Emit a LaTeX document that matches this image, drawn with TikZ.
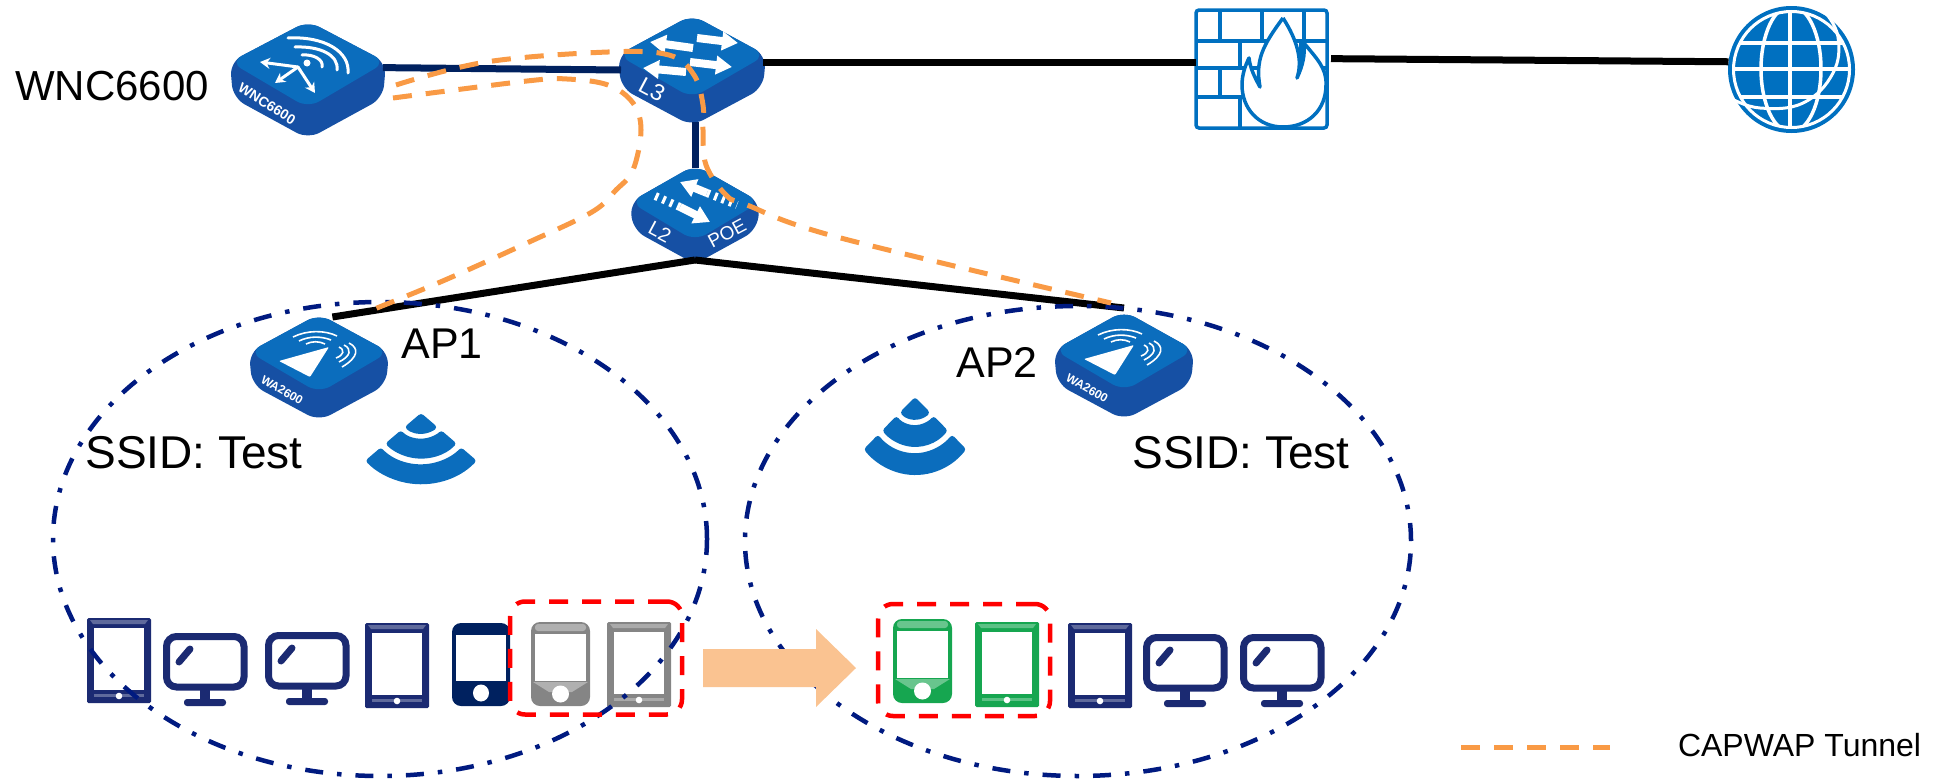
\documentclass[tikz,border=0pt]{standalone}
\usepackage{fontspec}
\setmainfont{Liberation Sans}
\usetikzlibrary{arrows.meta,shapes.geometric}
\definecolor{boxtop}{HTML}{0B6DBD}
\definecolor{boxside}{HTML}{1650A4}
\definecolor{linknavy}{HTML}{00215F}
\definecolor{cellnavy}{HTML}{001A80}
\definecolor{devnavy}{HTML}{1B2A72}
\definecolor{solidnavy}{HTML}{00215F}
\definecolor{tunnelor}{HTML}{F99A45}
\definecolor{devgray}{HTML}{858585}
\definecolor{devgreen}{HTML}{16A650}
\definecolor{fwblue}{HTML}{0070C0}
\definecolor{movefill}{HTML}{FAC391}
\tikzset{
  devnode/.style={inner sep=0pt,outer sep=0pt,minimum size=0pt},
  link/.style={line width=7pt,black},
  navylink/.style={line width=7pt,linknavy},
  tunnel/.style={line width=5pt,tunnelor,dash pattern=on 19pt off 14pt},
  cell/.style={ellipse,draw=cellnavy,line width=4.5pt,inner sep=0pt,dash pattern=on 18pt off 14pt on 4.5pt off 14pt},
  redbox/.style={draw=red,line width=4.5pt,rounded corners=15pt,inner sep=0pt,dash pattern=on 19pt off 14pt},
  big/.style={inner sep=0pt,font=\fontsize{43}{50}\selectfont},
  glyph/.style={white,line width=3pt,line cap=round},
  blockarrow/.style={white,line width=8pt,-{Triangle[length=16pt,width=18pt]}},
  stripes/.style={white,line width=8pt,dash pattern=on 3pt off 5pt},
  fwline/.style={fwblue,line width=3.5pt},
  pics/tabletpic/.style={code={
    \fill[#1,rounded corners=1.5pt] (0,0) rectangle (64,-85);
    \fill[#1!70!white] (3,-2) -- (61,-2) -- (58,-6) -- (6,-6) -- cycle;
    \fill[white] (7,-10) rectangle (57,-72);
    \fill[#1!70!white] (7,-76) rectangle (57,-79);
    \fill[white] (32,-78) circle (3.3);
  }},
  pics/monitorpic/.style={code={
    \draw[devnavy,line width=7pt,rounded corners=10pt] (3.5,-3.5) rectangle (81,-54);
    \fill[devnavy] (37,-57) rectangle (47,-67);
    \fill[devnavy,rounded corners=3pt] (21,-66) rectangle (63,-73);
    \draw[devnavy,line width=7pt,line cap=round] (16,-29) -- (27,-16);
  }},
  pics/phonepic/.style={code={
    \fill[#1,rounded corners=9pt] (0,0) rectangle (59,-84);
    \fill[#1!65!white,rounded corners=3pt] (4,-2) rectangle (55,-9);
    \fill[#1!65!white] (2,-60) -- (57,-60) -- (41,-70) -- (18,-70) -- cycle;
    \fill[white] (4,-12) rectangle (55,-59);
    \fill[white] (29.5,-72) circle (8.5);
  }},
  pics/signalpic/.style={code={
    \fill[boxtop,rounded corners=3pt] (0,0) -- (222:22) arc (222:318:22) -- cycle;
    \fill[boxtop,rounded corners=3pt] (222:27) arc (222:318:27) -- (318:48) arc (318:222:48) -- cycle;
    \fill[boxtop,rounded corners=3pt] (222:54) arc (222:318:54) -- (318:75) arc (318:222:75) -- cycle;
  }},
}
\newcommand{\isobox}[7]{
  \node[devnode,minimum width=#4*2pt,minimum height=(#7-#3)*1pt] (#1) at (#2,{-(#3+#7)/2}) {};
  \fill[boxside,rounded corners=13pt] (#2-#4-3,-#5) -- (#2,-#3+3) -- (#2+#4+3,-#5)
    -- (#2+#4,-#5-#7+#6-6) -- (#2,-#7-4) -- (#2-#4,-#5-#7+#6-6) -- cycle;
  \fill[boxtop,rounded corners=13pt] (#2-#4-3,-#5) -- (#2,-#3+3) -- (#2+#4+3,-#5) -- (#2,-#6-3) -- cycle;
}
\begin{document}
\begin{tikzpicture}[x=1pt,y=1pt]
\useasboundingbox (0,0) rectangle (1946,-779);

\isobox{wnc}{308}{24}{75}{62}{105}{135}
\isobox{ltre}{692}{18}{71}{55}{95}{122}
\isobox{ltwo}{695}{168}{62}{202}{238}{260}
\foreach \apname/\apx/\apt/\aps/\apf/\apb in {apone/319/317/352/390/417,aptwo/1124/314/350/388/416} {
  \isobox{\apname}{\apx}{\apt}{67}{\aps}{\apf}{\apb}
  \begin{scope}[shift={(\apx,-\aps)}]
    \fill[white,rounded corners=1pt] (10,5) -- (-40,-9) -- (-9,-25) -- cycle;
    \draw[white,line width=1.6pt] (-26,15) .. controls (-12,22) and (6,22) .. (18,16);
    \draw[white,line width=1.6pt] (-20,11) .. controls (-10,16) and (2,16) .. (12,12);
    \draw[white,line width=1.6pt] (-13,8) .. controls (-7,11) and (0,11) .. (6,8);
    \draw[white,line width=1.6pt] (30,9) .. controls (40,4) and (40,-5) .. (23,-15);
    \draw[white,line width=1.6pt] (25,7) .. controls (33,3) and (32,-4) .. (20,-10);
    \draw[white,line width=1.6pt] (20,5) .. controls (26,2) and (25,-3) .. (17,-6);
    \node[devnode,white,rotate=-30,font=\bfseries\fontsize{12}{14}\selectfont] (\apname txt) at (-37,-38) {WA2600};
  \end{scope}
}

\draw[glyph] (288,-38) .. controls (325,-36) and (350,-52) .. (348,-73);
\draw[glyph] (295,-47) .. controls (320,-46) and (339,-55) .. (337,-70);
\draw[glyph] (302,-55) .. controls (314,-54) and (324,-60) .. (322,-67);
\fill[white] (307,-63) circle (3.5);
\draw[glyph,-{Stealth[length=10pt,width=11pt]}] (298,-67) -- (260,-62);
\draw[glyph,-{Stealth[length=10pt,width=11pt]}] (298,-67) -- (275,-83);
\draw[glyph,-{Stealth[length=10pt,width=11pt]}] (298,-67) -- (315,-93);
\node[devnode,white,rotate=-32,font=\bfseries\fontsize{14}{16}\selectfont] (wnctxt) at (267,-104) {WNC6600};

\foreach \xa/\ya/\xb/\yb in {693/48/650/42,697/38/738/43,686/72/643/68,690/62/732/67}
  \draw[blockarrow] (\xa,-\ya) -- (\xb,-\yb);
\node[devnode,white,rotate=-28,font=\fontsize{23}{26}\selectfont] (ltretxt) at (652,-90) {L3};

\draw[blockarrow] (707,-193) -- (680,-182);
\draw[stripes] (707,-193) -- (737,-205);
\draw[blockarrow] (680,-207) -- (710,-222);
\draw[stripes] (680,-207) -- (653,-195);
\node[devnode,white,rotate=-28,font=\fontsize{20}{24}\selectfont] (ltwotxt) at (660,-232) {L2};
\node[devnode,white,rotate=28,font=\fontsize{19}{24}\selectfont] (poetxt) at (727,-233) {POE};

\node[devnode,minimum width=131pt,minimum height=118pt] (fw) at (1261.5,-69) {};
\draw[fwline,rounded corners=3pt] (fw.north west) rectangle (fw.south east);
\foreach \y in {41,68,97}
  \draw[fwline] (1196,-\y) -- (1327,-\y);
\foreach \x/\ya/\yb in {1220/10/41,1262/10/41,1304/10/41,1240/41/68,1301/41/68,1220/68/97,1262/68/97,1240/97/128}
  \draw[fwline] (\x,-\ya) -- (\x,-\yb);
\draw[fwline,fill=white,line join=round] (1283,-18) .. controls (1297,-40) and (1303,-60) .. (1297,-78)
  .. controls (1303,-65) and (1305,-55) .. (1304,-43) .. controls (1316,-58) and (1327,-68) .. (1326,-85)
  .. controls (1326,-110) and (1308,-127) .. (1283,-127) .. controls (1258,-127) and (1242,-108) .. (1242,-85)
  .. controls (1242,-75) and (1245,-66) .. (1249,-58) .. controls (1250,-68) and (1255,-78) .. (1260,-87)
  .. controls (1255,-60) and (1263,-45) .. (1283,-18);

\node[devnode,circle,minimum size=127pt,fill=fwblue] (globe) at (1791.5,-69.5) {};
\begin{scope}
  \clip (1791.5,-69.5) circle (57);
  \draw[white,line width=3.5pt] (1725,-43) -- (1855,-43);
  \draw[white,line width=3.5pt] (1725,-69) -- (1855,-69);
  \draw[white,line width=3.5pt] (1725,-97) -- (1855,-97);
  \draw[white,line width=3.5pt] (1790,0) -- (1790,-140);
  \draw[white,line width=3.5pt] (1791,-69) ellipse (30 and 63);
\end{scope}
\draw[white,line width=3pt] (1791.5,-69.5) circle (58);
\draw[white,line width=3pt] plot[smooth,tension=.7] coordinates {(1825,-12) (1838,-37) (1833,-73) (1803,-103) (1760,-108) (1730,-98)};

\draw[navylink] (wnc.9) -- (ltre.west);
\draw[link] (ltre.6) -- (fw.west |- ltre.6);
\draw[link,shorten <=4pt] (fw.9.5) -- (globe.173);
\draw[navylink] (ltwo.north) -- (ltwo.north |- ltre.south);
\draw[link] (ltwo.south) -- (apone.75);
\draw[link] (ltwo.south) -- ([yshift=6pt]aptwo.north);

\foreach \x/\y in {87/618,365/623,1068/623}
  \pic at (\x,-\y) {tabletpic=devnavy};
\pic at (607,-622) {tabletpic=devgray};
\pic at (975,-622) {tabletpic=devgreen};
\foreach \x/\y in {163/633,265/632,1143/634,1240/634}
  \pic at (\x,-\y) {monitorpic};
\fill[solidnavy,rounded corners=9pt] (452,-623) rectangle (510,-706);
\fill[white] (456,-635) rectangle (506,-681);
\fill[white] (481,-693) ellipse (8 and 8.5);
\pic at (531,-622) {phonepic=devgray};
\pic at (893,-619) {phonepic=devgreen};

\pic[yscale=.95] at (421,-413) {signalpic};
\pic[xscale=.92,yscale=1.04] at (915,-397) {signalpic};

\node[cell,minimum width=654pt,minimum height=474pt] (cellone) at (380,-539) {};
\node[cell,minimum width=666pt,minimum height=470pt] (celltwo) at (1078,-541) {};
\node[redbox,minimum width=172pt,minimum height=113pt] (oldbox) at (596,-658) {};
\node[redbox,minimum width=172pt,minimum height=112pt] (newbox) at (964,-660) {};
\fill[movefill] (703,-649) -- (816,-649) -- (816,-629) -- (856,-668) -- (816,-707) -- (816,-687) -- (703,-687) -- cycle;

\coordinate (tunaw) at (396,-85);
\coordinate (tunae) at (1111,-303);
\coordinate (tunbw) at (393,-98);
\coordinate (tunbe) at (372,-310);
\draw[tunnel] plot[smooth,tension=.6] coordinates {(tunaw) (486,-62) (608,-52) (669,-55) (694,-75) (703,-105) (703,-130) (706,-165) (726,-195) (747,-205) (837,-237) (tunae)};
\draw[tunnel] plot[smooth,tension=.6] coordinates {(tunbw) (527,-81) (567,-79) (608,-85) (633,-103) (641,-130) (633,-170) (616,-190) (592,-212) (527,-243) (445,-280) (tunbe)};

\node[big,anchor=west,font=\fontsize{42}{50}\selectfont] (wnclabel) at (15,-86) {WNC6600};
\node[big] (aponelabel) at (442,-344) {AP1};
\node[big] (aptwolabel) at (997,-362) {AP2};
\node[big,font=\fontsize{46}{52}\selectfont] (ssidone) at (194,-453) {SSID: Test};
\node[big,font=\fontsize{46}{52}\selectfont] (ssidtwo) at (1241,-453) {SSID: Test};

\coordinate (lega) at (1461,-747);
\coordinate (legb) at (1610,-747);
\draw[tunnel] (lega) -- (legb);
\node[devnode,anchor=west,font=\fontsize{32}{38}\selectfont] (legtxt) at (1678,-745) {CAPWAP Tunnel};
\end{tikzpicture}
\end{document}
